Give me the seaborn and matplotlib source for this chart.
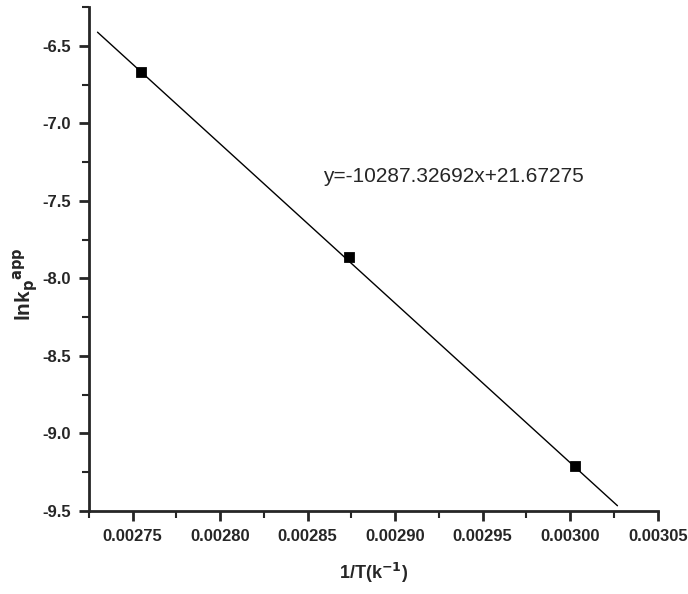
import numpy as np
import pandas as pd
import matplotlib
matplotlib.use("Agg")
import matplotlib.pyplot as plt
import seaborn as sns
from matplotlib.ticker import MultipleLocator, FormatStrFormatter

# measured points
inv_T = [0.0027548, 0.0028736, 0.0030030]
ln_kp = [-6.67, -7.86, -9.21]

# fitted line
slope = -10287.32692
intercept = 21.67275
fit_x_range = [0.00273, 0.003027]

df = pd.DataFrame({"x": inv_T, "y": ln_kp})
fx = np.linspace(fit_x_range[0], fit_x_range[1], 50)
fit = pd.DataFrame({"x": fx, "y": slope * fx + intercept})

sns.set_style("ticks")
plt.rcParams["font.family"] = ["Liberation Sans", "DejaVu Sans"]

fig = plt.figure(figsize=(6.88, 5.94), dpi=100)
ax = fig.add_axes([0.129, 0.14, 0.827, 0.848])

sns.lineplot(data=fit, x="x", y="y", color="black", linewidth=1.0, ax=ax)
sns.scatterplot(data=df, x="x", y="y", marker="s", color="black", s=50,
                edgecolor="black", ax=ax, zorder=3)

ax.set_xlim(0.002725, 0.00305)
ax.set_ylim(-9.5, -6.25)
ax.xaxis.set_major_locator(MultipleLocator(0.00005))
ax.xaxis.set_minor_locator(MultipleLocator(0.000025))
ax.xaxis.set_major_formatter(FormatStrFormatter("%.5f"))
ax.yaxis.set_major_locator(MultipleLocator(0.5))
ax.yaxis.set_minor_locator(MultipleLocator(0.25))
ax.yaxis.set_major_formatter(FormatStrFormatter("%.1f"))

for s in ["top", "right"]:
    ax.spines[s].set_visible(False)
for s in ["left", "bottom"]:
    ax.spines[s].set_linewidth(2)
ax.tick_params(which="major", direction="out", length=7, width=2,
               labelsize=12, pad=6)
ax.tick_params(which="minor", direction="out", length=5, width=1.5)
for lab in ax.get_xticklabels() + ax.get_yticklabels():
    lab.set_fontweight("bold")

ax.set_xlabel(r"1/T(k$^{\mathbf{-1}}$)", fontsize=13, fontweight="bold", labelpad=12)
ax.set_ylabel(r"lnk$_{\mathbf{p}}$$^{\mathbf{app}}$", fontsize=15, fontweight="bold")
ax.yaxis.set_label_coords(-0.085, 0.45)

ax.text(0.002859, -7.345, "y=-10287.32692x+21.67275", fontsize=15, ha="left", va="center")

fig.savefig("out.png", dpi=100)
